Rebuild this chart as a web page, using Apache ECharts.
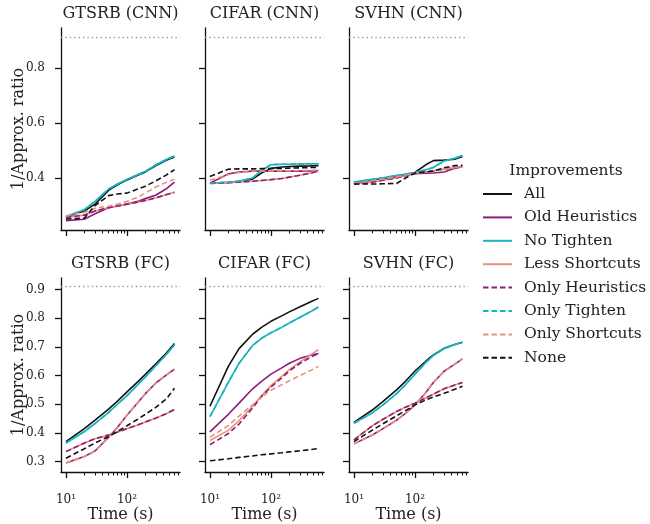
<!DOCTYPE html>
<html>
<head>
<meta charset="utf-8">
<script src="https://cdn.jsdelivr.net/npm/echarts@6/dist/echarts.min.js"></script>
<style>
  html, body { margin: 0; padding: 0; background: #fff; }
  #chart { width: 650px; height: 524px; }
</style>
</head>
<body>
<div id="chart"></div>
<script>
// time points (s), shared by every curve
var timeS = [10, 20, 30, 50, 70, 100, 150, 200, 300, 450, 600];

var methods = ['All', 'Old Heuristics', 'No Tighten', 'Less Shortcuts',
               'Only Heuristics', 'Only Tighten', 'Only Shortcuts', 'None'];
var methodColors = ['#111111', '#8c1d7d', '#17b3bf', '#e8927c',
                    '#8c1d7d', '#17b3bf', '#e8927c', '#111111'];
var methodDashed = [false, false, false, false, true, true, true, true];

// each panel: one row per method, same order as `methods`
var gtsrbCnn = [
  [0.258, 0.280, 0.305, 0.355, 0.375, 0.393, 0.410, 0.422, 0.445, 0.465, 0.476],
  [0.245, 0.250, 0.270, 0.292, 0.298, 0.305, 0.315, 0.325, 0.338, 0.362, 0.385],
  [0.260, 0.285, 0.315, 0.360, 0.378, 0.395, 0.412, 0.424, 0.448, 0.468, 0.480],
  [0.257, 0.265, 0.280, 0.292, 0.298, 0.305, 0.312, 0.318, 0.328, 0.340, 0.348],
  [0.257, 0.265, 0.280, 0.292, 0.298, 0.305, 0.312, 0.318, 0.328, 0.340, 0.348],
  [0.260, 0.285, 0.315, 0.360, 0.378, 0.395, 0.412, 0.424, 0.448, 0.468, 0.480],
  [0.262, 0.275, 0.290, 0.298, 0.305, 0.315, 0.330, 0.345, 0.368, 0.385, 0.395],
  [0.251, 0.254, 0.300, 0.336, 0.342, 0.345, 0.360, 0.370, 0.390, 0.412, 0.430]
];
var cifarCnn = [
  [0.381, 0.384, 0.388, 0.396, 0.418, 0.435, 0.440, 0.442, 0.443, 0.444, 0.445],
  [0.381, 0.415, 0.422, 0.425, 0.425, 0.425, 0.425, 0.425, 0.425, 0.426, 0.427],
  [0.381, 0.384, 0.388, 0.400, 0.428, 0.448, 0.450, 0.450, 0.451, 0.452, 0.452],
  [0.380, 0.383, 0.385, 0.388, 0.391, 0.394, 0.398, 0.403, 0.410, 0.418, 0.425],
  [0.380, 0.383, 0.385, 0.388, 0.391, 0.394, 0.398, 0.403, 0.410, 0.418, 0.425],
  [0.381, 0.384, 0.388, 0.400, 0.428, 0.448, 0.450, 0.450, 0.451, 0.452, 0.452],
  [0.392, 0.412, 0.420, 0.424, 0.425, 0.426, 0.426, 0.426, 0.427, 0.428, 0.428],
  [0.405, 0.432, 0.433, 0.433, 0.434, 0.434, 0.435, 0.436, 0.437, 0.438, 0.438]
];
var svhnCnn = [
  [0.383, 0.393, 0.399, 0.407, 0.412, 0.420, 0.448, 0.463, 0.465, 0.468, 0.478],
  [0.383, 0.392, 0.398, 0.405, 0.410, 0.416, 0.417, 0.418, 0.422, 0.435, 0.442],
  [0.385, 0.395, 0.401, 0.409, 0.414, 0.420, 0.430, 0.438, 0.462, 0.472, 0.482],
  [0.378, 0.385, 0.392, 0.400, 0.408, 0.416, 0.422, 0.426, 0.432, 0.437, 0.440],
  [0.378, 0.385, 0.392, 0.400, 0.408, 0.416, 0.422, 0.426, 0.432, 0.437, 0.440],
  [0.385, 0.395, 0.401, 0.409, 0.414, 0.420, 0.430, 0.438, 0.462, 0.472, 0.482],
  [0.380, 0.390, 0.396, 0.404, 0.410, 0.418, 0.422, 0.426, 0.432, 0.438, 0.442],
  [0.378, 0.378, 0.379, 0.380, 0.400, 0.418, 0.422, 0.425, 0.437, 0.445, 0.446]
];
var gtsrbFc = [
  [0.370, 0.415, 0.445, 0.483, 0.511, 0.543, 0.578, 0.604, 0.642, 0.680, 0.712],
  [0.295, 0.318, 0.337, 0.385, 0.420, 0.462, 0.505, 0.537, 0.575, 0.603, 0.622],
  [0.365, 0.405, 0.433, 0.472, 0.500, 0.530, 0.568, 0.595, 0.635, 0.675, 0.707],
  [0.335, 0.365, 0.380, 0.393, 0.403, 0.415, 0.428, 0.438, 0.452, 0.468, 0.482],
  [0.335, 0.365, 0.380, 0.393, 0.403, 0.415, 0.428, 0.438, 0.452, 0.468, 0.482],
  [0.365, 0.405, 0.433, 0.472, 0.500, 0.530, 0.568, 0.595, 0.635, 0.675, 0.707],
  [0.295, 0.318, 0.337, 0.385, 0.420, 0.462, 0.505, 0.537, 0.575, 0.603, 0.622],
  [0.312, 0.345, 0.365, 0.388, 0.405, 0.425, 0.448, 0.465, 0.490, 0.520, 0.556]
];
var cifarFc = [
  [0.493, 0.632, 0.694, 0.744, 0.768, 0.789, 0.808, 0.822, 0.840, 0.857, 0.869],
  [0.404, 0.465, 0.504, 0.554, 0.580, 0.605, 0.627, 0.643, 0.660, 0.671, 0.677],
  [0.457, 0.576, 0.643, 0.705, 0.730, 0.749, 0.768, 0.783, 0.803, 0.823, 0.839],
  [0.374, 0.409, 0.443, 0.493, 0.530, 0.565, 0.597, 0.621, 0.648, 0.673, 0.690],
  [0.359, 0.398, 0.431, 0.487, 0.527, 0.560, 0.592, 0.616, 0.643, 0.664, 0.677],
  [0.457, 0.576, 0.643, 0.705, 0.730, 0.749, 0.768, 0.783, 0.803, 0.823, 0.839],
  [0.385, 0.426, 0.459, 0.498, 0.525, 0.549, 0.568, 0.582, 0.600, 0.618, 0.632],
  [0.303, 0.310, 0.315, 0.320, 0.324, 0.327, 0.331, 0.334, 0.338, 0.342, 0.346]
];
var svhnFc = [
  [0.437, 0.480, 0.510, 0.550, 0.580, 0.616, 0.650, 0.672, 0.695, 0.708, 0.716],
  [0.362, 0.393, 0.415, 0.445, 0.468, 0.498, 0.540, 0.576, 0.615, 0.640, 0.658],
  [0.434, 0.470, 0.498, 0.537, 0.568, 0.605, 0.645, 0.670, 0.694, 0.708, 0.716],
  [0.376, 0.425, 0.448, 0.475, 0.490, 0.504, 0.522, 0.535, 0.554, 0.567, 0.576],
  [0.376, 0.425, 0.448, 0.475, 0.490, 0.504, 0.522, 0.535, 0.554, 0.567, 0.576],
  [0.434, 0.470, 0.498, 0.537, 0.568, 0.605, 0.645, 0.670, 0.694, 0.708, 0.716],
  [0.362, 0.393, 0.415, 0.445, 0.468, 0.498, 0.540, 0.576, 0.615, 0.640, 0.658],
  [0.370, 0.410, 0.432, 0.460, 0.478, 0.498, 0.515, 0.525, 0.538, 0.552, 0.563]
];

var panelTitles = ['GTSRB (CNN)', 'CIFAR (CNN)', 'SVHN (CNN)', 'GTSRB (FC)', 'CIFAR (FC)', 'SVHN (FC)'];
var panelData = [gtsrbCnn, cifarCnn, svhnCnn, gtsrbFc, cifarFc, svhnFc];

var cnnTicks = [0.4, 0.6, 0.8];
var fcTicks = [0.3, 0.4, 0.5, 0.6, 0.7, 0.8, 0.9];
var majorTimeTicks = [10, 100];
var minorTimeTicks = [20, 30, 40, 50, 60, 70, 80, 90, 200, 300, 400, 500, 600, 700];
var bestRatio = 0.91;

var FONT = 'DejaVu Serif';
var INK = '#222222';
var colLeft = [61, 205, 349];
var rowTop = [28, 278];
var panelW = 119, panelH = 202;
var rowYRange = [[0.211, 0.945], [0.264, 0.94]];
var timeRange = [8.3, 740];

var chart = echarts.init(document.getElementById('chart'));

var grids = [], xAxes = [], yAxes = [], series = [], graphics = [];

for (var p = 0; p < 6; p++) {
  var row = Math.floor(p / 3), col = p % 3;
  grids.push({ left: colLeft[col], top: rowTop[row], width: panelW, height: panelH });

  // main log time axis
  xAxes.push({
    type: 'log', logBase: 10, gridIndex: p, position: 'bottom',
    min: timeRange[0], max: timeRange[1],
    name: row === 1 ? 'Time (s)' : '',
    nameLocation: 'middle', nameGap: 35, nameMoveOverlap: false,
    nameTextStyle: { fontFamily: FONT, fontSize: 16, color: INK },
    axisLine: { onZero: false, lineStyle: { color: '#111', width: 1.3 } },
    axisTick: { length: 6, customValues: majorTimeTicks, lineStyle: { color: '#111', width: 1.3 } },
    axisLabel: {
      show: row === 1, customValues: majorTimeTicks, margin: 22,
      fontFamily: FONT, fontSize: 12, color: INK,
      formatter: function (v) { return Math.round(Math.log10(v)) === 1 ? '10¹' : '10²'; }
    },
    splitLine: { show: false }
  });
  // minor ticks only
  xAxes.push({
    type: 'log', logBase: 10, gridIndex: p, position: 'bottom',
    min: timeRange[0], max: timeRange[1],
    axisLine: { show: false, onZero: false },
    axisTick: { length: 3.5, customValues: minorTimeTicks, lineStyle: { color: '#111', width: 1 } },
    axisLabel: { show: false },
    splitLine: { show: false }
  });

  var ticks = row === 0 ? cnnTicks : fcTicks;
  yAxes.push({
    type: 'value', gridIndex: p,
    min: rowYRange[row][0], max: rowYRange[row][1],
    name: col === 0 ? '1/Approx. ratio' : '',
    nameLocation: 'middle', nameGap: 34, nameRotate: 90, nameMoveOverlap: false,
    nameTextStyle: { fontFamily: FONT, fontSize: 16, color: INK },
    axisLine: { show: true, lineStyle: { color: '#111', width: 1.3 } },
    axisTick: { show: true, length: 6, customValues: ticks, lineStyle: { color: '#111', width: 1.3 } },
    axisLabel: {
      show: col === 0, customValues: ticks, margin: 16,
      fontFamily: FONT, fontSize: 12, color: INK,
      formatter: function (v) { return v.toFixed(1); }
    },
    splitLine: { show: false }
  });

  graphics.push({
    type: 'text', x: colLeft[col] + panelW / 2, y: rowTop[row] - 14,
    style: { text: panelTitles[p], align: 'center', verticalAlign: 'middle',
             fontFamily: FONT, fontSize: 16, fill: INK }
  });

  for (var m = 0; m < methods.length; m++) {
    var vals = panelData[p][m];
    var s = {
      name: methods[m], type: 'line', xAxisIndex: 2 * p, yAxisIndex: p,
      symbol: 'none', showSymbol: false,
      data: timeS.map(function (t, k) { return [t, vals[k]]; }),
      itemStyle: { color: methodColors[m] },
      lineStyle: { color: methodColors[m], width: 1.6, type: methodDashed[m] ? [5.5, 3] : 'solid' },
      z: 2 + m
    };
    if (m === 0) {
      s.markLine = {
        silent: true, symbol: ['none', 'none'], label: { show: false },
        lineStyle: { color: '#999', type: [1.4, 3], width: 1.4 },
        data: [{ yAxis: bestRatio }]
      };
    }
    series.push(s);
  }
}

graphics.push({
  type: 'text', x: 566, y: 171,
  style: { text: 'Improvements', align: 'center', verticalAlign: 'middle',
           fontFamily: FONT, fontSize: 15.5, fill: INK }
});

chart.setOption({
  animation: false,
  backgroundColor: '#fff',
  grid: grids,
  xAxis: xAxes,
  yAxis: yAxes,
  legend: {
    data: methods, orient: 'vertical', left: 482, top: 186,
    itemWidth: 29, itemHeight: 14, itemGap: 7.4, padding: 0,
    itemStyle: { opacity: 0 },
    textStyle: { fontFamily: FONT, fontSize: 15.5, color: INK, padding: [0, 0, 0, 7] }
  },
  graphic: graphics,
  series: series
});
</script>
</body>
</html>
